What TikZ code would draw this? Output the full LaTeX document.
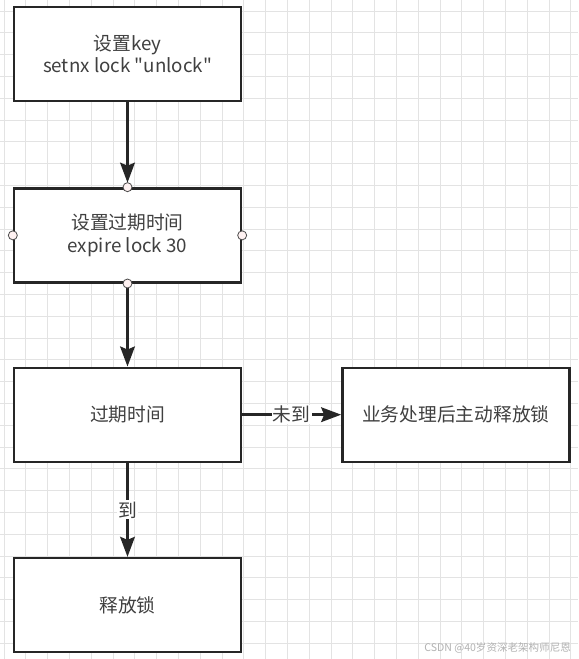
\documentclass[tikz,border=0pt]{standalone}
\usepackage{fontspec}
\setmainfont{Noto Sans CJK SC}[Ligatures=TeXOff]
\usetikzlibrary{arrows.meta,positioning}

\begin{document}
\begin{tikzpicture}[
			node distance=2.55cm,
			every node/.style={text=black!75, font=\fontsize{16}{19}\selectfont},
			process/.style={rectangle, draw=black!85, line width=2pt, fill=white, minimum width=6.81cm, minimum height=2.82cm, align=center},
			arrow/.style={draw, black!85, line width=2.2pt,-{Stealth[length=6mm,width=4.4mm,inset=0.9mm]}},
			edgetext/.style={fill=white, inner sep=1pt},
			port/.style={draw=black!70, fill=red!5, line width=0.7pt},
			gridline/.style={black!11, line width=0.8pt}
			]
			
			% 背景网格
			\useasboundingbox (0,0) rectangle (17.34,-19.77);
			\fill[white] (0,0) rectangle (17.34,-19.77);
			\foreach \i in {0,...,26} \draw[gridline] ({0.123+0.654*\i},0) -- ++(0,-19.77);
			\foreach \j in {0,...,29} \draw[gridline] (0,{-0.33-0.654*\j}) -- ++(17.34,0);
			
			% 节点定义
			\node (setkey) [process] at (3.825,-1.62) {设置key\\setnx lock "unlock"};
			\node (expire) [process, below=of setkey] {设置过期时间\\expire lock 30};
			\node (check) [process, below=2.49cm of expire] {过期时间};
			\node (active) [process, right=2.97cm of check] {业务处理后主动释放锁};
			\node (release) [process, below=2.82cm of check] {释放锁};
			
			% 边缘箭头
			\draw [arrow, shorten >=1.35mm] (setkey) -- (expire);
			\draw [arrow, shorten <=1.35mm] (expire) -- (check);
			\draw [arrow] (check) -- (active);
			\draw [arrow] (check) -- (release);
			\path (check) -- node[edgetext] {未到} (active);
			\path (check) -- node[edgetext] {到} (release);
			
			% 连接点
			\foreach \a in {north,south,east,west}
				\draw [port] (expire.\a) circle (1.35mm);
			
			% 水印
			\node (mark) [anchor=east, text=black!30, font=\fontsize{9}{11}\selectfont] at (17.25,-19.44) {CSDN @40岁资深老架构师尼恩};
			
		\end{tikzpicture}
\end{document}
